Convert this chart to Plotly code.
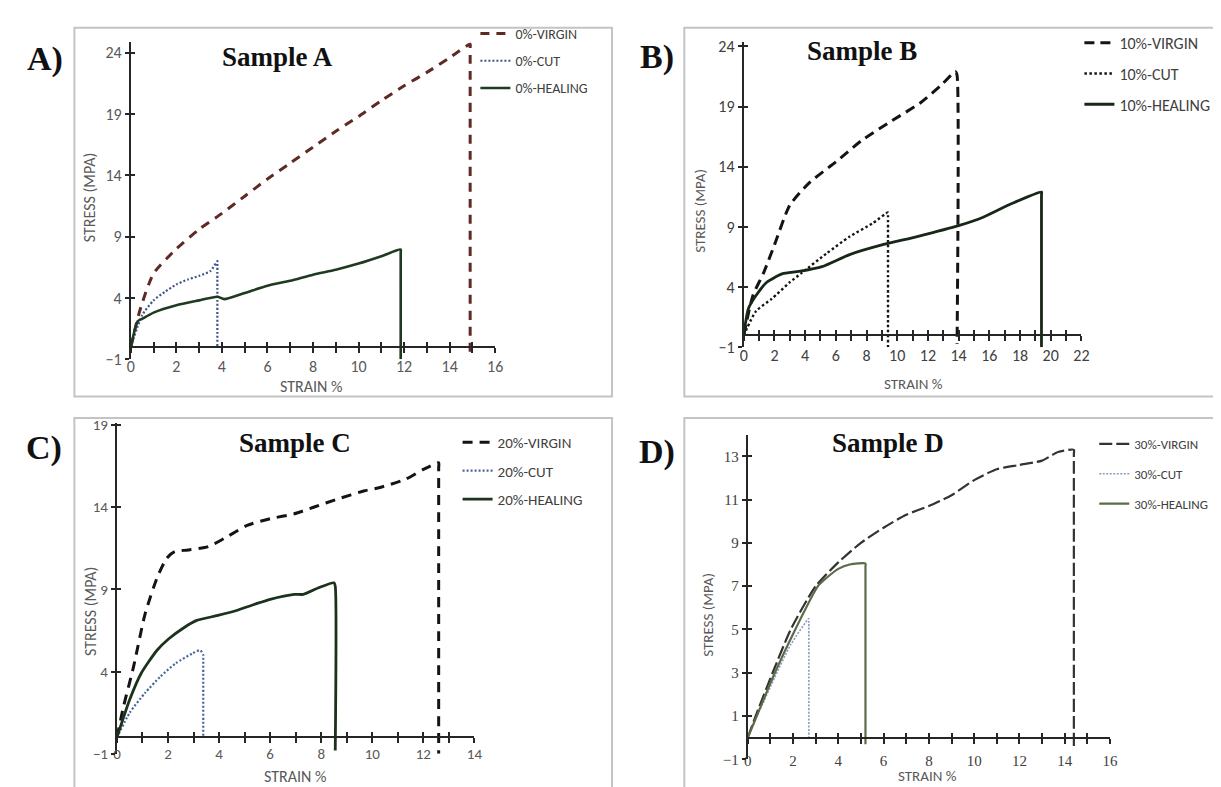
import plotly.graph_objects as go

W, H = 1221, 787

# ---------------- data ----------------
# Sample A (0%)
a_virgin_x = [0, 0.4, 1, 2, 3, 4, 5, 6, 7, 8, 9, 10, 11, 12, 13, 14, 14.9, 14.9, 14.9]
a_virgin_y = [0, 3.0, 6.0, 8.0, 9.6, 10.9, 12.3, 13.7, 15.0, 16.3, 17.6, 18.8, 20.1, 21.3, 22.4, 23.6, 24.7, 24.4, -1]
a_cut_x = [0, 0.5, 1, 1.5, 2, 2.5, 3, 3.5, 3.8, 3.8, 3.8]
a_cut_y = [0, 2.6, 3.8, 4.5, 5.1, 5.5, 5.8, 6.2, 7.0, 6.8, 0]
a_heal_x = [0, 0.3, 0.5, 1, 2, 3, 3.8, 4.1, 5, 6, 7, 8, 9, 10, 11, 11.85, 11.85, 11.85]
a_heal_y = [0, 2.1, 2.3, 2.8, 3.4, 3.8, 4.1, 3.9, 4.4, 5.0, 5.4, 5.9, 6.3, 6.8, 7.4, 7.95, 7.7, -1]

# Sample B (10%)
b_virgin_x = [0, 0.6, 1.3, 2, 3, 4.3, 6, 7.7, 9.5, 11.5, 12.8, 13.8, 13.9, 13.9]
b_virgin_y = [0, 3.3, 5.2, 7.5, 10.8, 12.7, 14.4, 16.2, 17.7, 19.3, 20.7, 21.9, 21.6, -0.7]
b_cut_x = [0, 0.8, 1.8, 3, 3.8, 5.4, 6.9, 8.4, 9.4, 9.4, 9.4]
b_cut_y = [0, 2.0, 3.0, 4.4, 5.2, 6.8, 8.2, 9.3, 10.2, 9.9, -1]
b_heal_x = [0, 0.3, 0.8, 1.5, 2.5, 3.6, 5.1, 6.9, 9, 11.3, 14, 15.6, 17.4, 19.4, 19.4, 19.4]
b_heal_y = [0, 2.2, 3.3, 4.4, 5.1, 5.3, 5.7, 6.7, 7.5, 8.2, 9.1, 9.8, 10.9, 11.9, 11.6, -1]

# Sample C (20%)
c_virgin_x = [0, 0.26, 0.65, 1.1, 1.57, 1.95, 2.26, 2.8, 3.57, 4.2, 5.1, 6.0, 6.95, 7.7, 8.65, 9.7, 10.3, 11.3, 12.0, 12.6, 12.6, 12.6]
c_virgin_y = [0, 1.9, 4.3, 7.5, 9.7, 10.9, 11.3, 11.4, 11.6, 12.1, 12.9, 13.3, 13.6, 14.0, 14.5, 15.0, 15.2, 15.7, 16.3, 16.7, 16.4, -1]
c_cut_x = [0, 0.5, 1.1, 1.7, 2.3, 2.95, 3.26, 3.38, 3.38, 3.38]
c_cut_y = [0, 1.5, 2.7, 3.7, 4.5, 5.1, 5.3, 5.0, 4.8, 0]
c_heal_x = [0, 0.5, 0.95, 1.57, 2.03, 2.65, 3.1, 3.9, 4.65, 5.4, 6.0, 6.95, 7.3, 7.9, 8.5, 8.55, 8.55]
c_heal_y = [0, 2.3, 3.9, 5.3, 6.0, 6.7, 7.1, 7.4, 7.7, 8.1, 8.4, 8.7, 8.7, 9.1, 9.4, 9.2, -0.8]

# Sample D (30%)
d_virgin_x = [0, 0.35, 1.1, 1.9, 3.0, 4.0, 5.0, 6.0, 7.0, 8.0, 9.0, 10.0, 11.0, 12.0, 13.0, 13.7, 14.4, 14.4, 14.4]
d_virgin_y = [0, 1.0, 3.0, 5.0, 7.0, 8.1, 9.0, 9.7, 10.3, 10.7, 11.2, 11.9, 12.4, 12.6, 12.8, 13.2, 13.3, 13.1, -0.4]
d_cut_x = [0, 0.5, 1.2, 1.9, 2.7, 2.7, 2.7]
d_cut_y = [0, 1.2, 2.8, 4.3, 5.5, 5.3, 0]
d_heal_x = [0, 0.4, 1.2, 2.1, 3.1, 3.5, 4.0, 4.5, 5.2, 5.2, 5.2]
d_heal_y = [0, 1.0, 3.0, 5.0, 7.0, 7.4, 7.8, 8.0, 8.05, 7.9, -0.3]

series_names = {
    "A": ["0%-VIRGIN", "0%-CUT", "0%-HEALING"],
    "B": ["10%-VIRGIN", "10%-CUT", "10%-HEALING"],
    "C": ["20%-VIRGIN", "20%-CUT", "20%-HEALING"],
    "D": ["30%-VIRGIN", "30%-CUT", "30%-HEALING"],
}
titles = {"A": "Sample A", "B": "Sample B", "C": "Sample C", "D": "Sample D"}
ytick_vals = {
    "A": [-1, 4, 9, 14, 19, 24],
    "B": [-1, 4, 9, 14, 19, 24],
    "C": [-1, 4, 9, 14, 19],
    "D": [-1, 1, 3, 5, 7, 9, 11, 13],
}

data = {
    "A": [(a_virgin_x, a_virgin_y), (a_cut_x, a_cut_y), (a_heal_x, a_heal_y)],
    "B": [(b_virgin_x, b_virgin_y), (b_cut_x, b_cut_y), (b_heal_x, b_heal_y)],
    "C": [(c_virgin_x, c_virgin_y), (c_cut_x, c_cut_y), (c_heal_x, c_heal_y)],
    "D": [(d_virgin_x, d_virgin_y), (d_cut_x, d_cut_y), (d_heal_x, d_heal_y)],
}

# ---------------- styles / layout geometry (pixels) ----------------
SANS = "Carlito, 'Liberation Sans Narrow', Lato, Arial, sans-serif"
SERIF = "'Liberation Serif', 'Times New Roman', serif"
AX = "#262626"
TXT = "#595959"

styles = {
    "A": [dict(color="#5e2a24", width=3, dash="9px,7px"),
          dict(color="#3b568a", width=2.2, dash="2px,2px"),
          dict(color="#203a20", width=2.6, dash="solid")],
    "B": [dict(color="#141414", width=3, dash="10px,6px"),
          dict(color="#141414", width=2.4, dash="2.5px,2.5px"),
          dict(color="#182818", width=2.8, dash="solid")],
    "C": [dict(color="#141414", width=3, dash="10px,7px"),
          dict(color="#46659a", width=2.2, dash="2px,2px"),
          dict(color="#1b321b", width=2.8, dash="solid")],
    "D": [dict(color="#333333", width=2.2, dash="13px,4px"),
          dict(color="#8a9ac4", width=1.6, dash="2px,1.5px"),
          dict(color="#5b6b48", width=2.2, dash="solid")],
}

geo = {
    "A": dict(xr=[0, 16], yr=[-1, 24.9], px=(120, 488), y0=339.3, ppu=12.53,
              tickfont=(SANS, 16, TXT), standoff=-4),
    "B": dict(xr=[0, 22], yr=[-1, 24.4], px=(739, 1080), y0=327.3, ppu=12.3,
              tickfont=(SANS, 16, "#404040"), standoff=-3),
    "C": dict(xr=[0, 14], yr=[-1, 19.1], px=(106, 467), y0=738.3, ppu=16.8,
              tickfont=(SANS, 15, TXT), standoff=-11),
    "D": dict(xr=[0, 16], yr=[-1, 14], px=(743, 1109), y0=738.7, ppu=22.13,
              tickfont=(SERIF, 15, "#404040"), standoff=-9),
}

legend_geo = {  # left px, top px, font size, gap
    "A": (468, 3, 14, 6),
    "B": (1078, 11, 16, 7),
    "C": (450, 420, 15, 6),
    "D": (1093, 423, 13, 10),
}

boxes = {"A": (63, 13, 606, 390), "B": (679, 13, 1235, 390),
         "C": (63, 412, 606, 800), "D": (679, 412, 1235, 800)}
letters = {"A": (33, 45), "B": (651, 43), "C": (32, 443), "D": (651, 447)}
title_pos = {"A": (268, 43), "B": (858, 37), "C": (286, 437), "D": (885, 437)}
ytitle_pos = {"A": (79, 187), "B": (695, 200), "C": (80, 610), "D": (703, 613)}
xtitle_pos = {"A": (302, 380), "B": (910, 377), "C": (286, 778), "D": (925, 778)}
axis_title_size = {"A": 16, "B": 15, "C": 16, "D": 15}

fig = go.Figure()
layout = dict(width=W, height=H, margin=dict(l=0, r=0, t=0, b=0),
              paper_bgcolor="white", plot_bgcolor="rgba(0,0,0,0)", showlegend=True)
annotations = []
shapes = []

for i, key in enumerate(["A", "B", "C", "D"]):
    n = i + 1
    g = geo[key]
    ybot = g["y0"] + g["ppu"] * (0 - g["yr"][0])
    ytop = g["y0"] - g["ppu"] * g["yr"][1]
    xdom = [g["px"][0] / W, g["px"][1] / W]
    ydom = [1 - ybot / H, 1 - ytop / H]
    pos0 = 1 - g["y0"] / H
    tf = dict(family=g["tickfont"][0], size=g["tickfont"][1], color=g["tickfont"][2])
    leg = "legend" if n == 1 else f"legend{n}"

    for (xs, ys), nm, st in zip(data[key], series_names[key], styles[key]):
        fig.add_trace(go.Scatter(x=xs, y=ys, mode="lines", name=nm,
                                 line=dict(**st, shape="spline", smoothing=0.6),
                                 xaxis=f"x{n}", yaxis=f"y{n}", legend=leg,
                                 legendgroup=nm, hoverinfo="skip"))

    layout[f"xaxis{n}"] = dict(domain=xdom, range=g["xr"], anchor=f"y{n}", showline=False,
                               showgrid=False, zeroline=False, ticks="", dtick=2, tick0=0,
                               tickfont=tf, ticklabelstandoff=g["standoff"])
    layout[f"yaxis{n}"] = dict(domain=ydom, range=g["yr"], anchor=f"x{n}", showline=True,
                               linecolor=AX, linewidth=2, showgrid=False, zeroline=False,
                               ticks="outside", ticklen=4, tickwidth=2, tickcolor=AX,
                               tickvals=ytick_vals[key], tickfont=tf)
    for m, tk in ((n + 4, "outside"), (n + 8, "inside")):
        layout[f"xaxis{m}"] = dict(overlaying=f"x{n}", anchor="free", position=pos0,
                                   domain=xdom, range=g["xr"], showline=(tk == "outside"),
                                   linecolor=AX, linewidth=2, showgrid=False, zeroline=False,
                                   ticks=tk, ticklen=5, tickwidth=2, tickcolor=AX,
                                   dtick=2, tick0=0, showticklabels=False,
                                   minor=dict(ticks=tk, ticklen=5, tickwidth=2, tickcolor=AX, dtick=1))
        fig.add_trace(go.Scatter(x=[None], y=[None], xaxis=f"x{m}", yaxis=f"y{n}",
                                 showlegend=False, hoverinfo="skip"))
    m = n + 4
    layout[f"yaxis{m}"] = dict(overlaying=f"y{n}", anchor=f"x{n}", domain=ydom, range=g["yr"],
                               showline=False, showgrid=False, zeroline=False, ticks="inside",
                               ticklen=4, tickwidth=2, tickcolor=AX, tickvals=ytick_vals[key],
                               showticklabels=False)
    fig.add_trace(go.Scatter(x=[None], y=[None], xaxis=f"x{n}", yaxis=f"y{m}",
                             showlegend=False, hoverinfo="skip"))

    lx, ly, lfs, lgap = legend_geo[key]
    layout[leg] = dict(x=lx / W, y=1 - ly / H, xanchor="left", yanchor="top",
                       bgcolor="rgba(0,0,0,0)", font=dict(family=SANS, size=lfs, color="#404040"),
                       tracegroupgap=lgap, itemwidth=30)

    x0, y0b, x1, y1b = boxes[key]
    shapes.append(dict(type="rect", xref="paper", yref="paper", x0=x0 / W, x1=x1 / W,
                       y0=1 - y1b / H, y1=1 - y0b / H, line=dict(color="#c4c4c4", width=2),
                       fillcolor="rgba(0,0,0,0)", layer="below"))
    lx2, ly2 = letters[key]
    annotations.append(dict(text=f"<b>{key})</b>", x=lx2 / W, y=1 - ly2 / H, xref="paper", yref="paper",
                            showarrow=False, xanchor="center", yanchor="middle",
                            font=dict(family=SERIF, size=34, color="#111111")))
    tx, ty = title_pos[key]
    annotations.append(dict(text=f"<b>{titles[key]}</b>", x=tx / W, y=1 - ty / H, xref="paper", yref="paper",
                            showarrow=False, xanchor="center", yanchor="middle",
                            font=dict(family=SERIF, size=27, color="#111111")))
    ats = axis_title_size[key]
    yx, yy = ytitle_pos[key]
    annotations.append(dict(text="STRESS (MPA)", x=yx / W, y=1 - yy / H, xref="paper", yref="paper",
                            showarrow=False, textangle=-90, xanchor="center", yanchor="middle",
                            font=dict(family=SANS, size=ats, color=TXT)))
    xx, xy = xtitle_pos[key]
    annotations.append(dict(text="STRAIN %", x=xx / W, y=1 - xy / H, xref="paper", yref="paper",
                            showarrow=False, xanchor="center", yanchor="middle",
                            font=dict(family=SANS, size=ats, color=TXT)))

layout["annotations"] = annotations
layout["shapes"] = shapes
fig.update_layout(**layout)
fig.write_html("out.html")
